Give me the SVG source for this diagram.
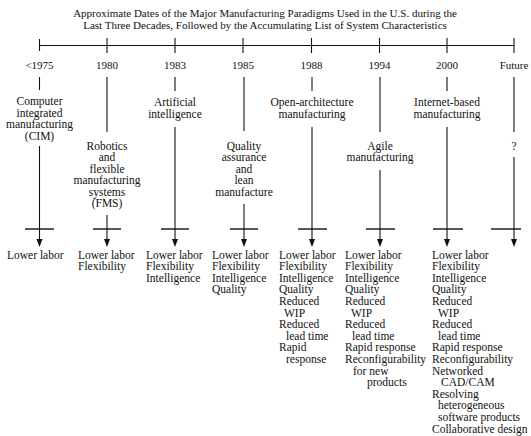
<svg xmlns="http://www.w3.org/2000/svg" width="531" height="436" viewBox="0 0 531 436">
<style>
text{font-family:"Liberation Serif","Times New Roman",serif;fill:#111}
.t{font-size:11px}
.y{font-size:11px;text-anchor:middle}
.n{font-size:11.5px;text-anchor:middle}
.l{font-size:11.5px}
.ln{stroke:#111;stroke-width:1.1;fill:none}
.x{stroke:#111;stroke-width:1.4}
</style>
<rect width="531" height="436" fill="#fff"/>
<g id="title">
<text class="t" x="265" y="17" text-anchor="middle">Approximate Dates of the Major Manufacturing Paradigms Used in the U.S. during the</text>
<text class="t" x="265" y="29" text-anchor="middle">Last Three Decades, Followed by the Accumulating List of System Characteristics</text>
</g>
<g id="timeline" class="ln">
<line x1="39.5" y1="45.5" x2="514" y2="45.5"/>
<line x1="39.5" y1="39" x2="39.5" y2="51"/>
<line x1="107" y1="38" x2="107" y2="53"/>
<line x1="175" y1="38" x2="175" y2="53"/>
<line x1="243" y1="38" x2="243" y2="53"/>
<line x1="311.5" y1="38" x2="311.5" y2="53"/>
<line x1="379.5" y1="38" x2="379.5" y2="53"/>
<line x1="447" y1="38" x2="447" y2="53"/>
<line x1="514" y1="38" x2="514" y2="53"/>
</g>
<g id="connectors" class="ln">
<line x1="39.5" y1="77" x2="39.5" y2="90"/>
<line x1="39.5" y1="146" x2="39.5" y2="239"/>
<line class="x" x1="25" y1="229" x2="54" y2="229"/>
<line x1="107" y1="77" x2="107" y2="132"/>
<line x1="107" y1="215" x2="107" y2="239"/>
<line class="x" x1="93" y1="229" x2="121" y2="229"/>
<line x1="175" y1="77" x2="175" y2="91"/>
<line x1="175" y1="127" x2="175" y2="239"/>
<line class="x" x1="161" y1="229" x2="189" y2="229"/>
<line x1="244" y1="77" x2="244" y2="131"/>
<line x1="244" y1="204" x2="244" y2="239"/>
<line class="x" x1="230" y1="229" x2="258" y2="229"/>
<line x1="312" y1="77" x2="312" y2="91"/>
<line x1="312" y1="127" x2="312" y2="239"/>
<line class="x" x1="298" y1="229" x2="327" y2="229"/>
<line x1="380" y1="77" x2="380" y2="132"/>
<line x1="380" y1="170" x2="380" y2="239"/>
<line class="x" x1="366" y1="229" x2="395" y2="229"/>
<line x1="447" y1="77" x2="447" y2="91"/>
<line x1="447" y1="127" x2="447" y2="239"/>
<line class="x" x1="433" y1="229" x2="463" y2="229"/>
<line x1="514" y1="77" x2="514" y2="132"/>
<line x1="514" y1="157" x2="514" y2="239"/>
<line class="x" x1="491" y1="229" x2="521" y2="229"/>
<g fill="#111" stroke="none">
<path d="M36.5,239 L42.5,239 L39.5,247 Z"/>
<path d="M104,239 L110,239 L107,247 Z"/>
<path d="M172,239 L178,239 L175,247 Z"/>
<path d="M241,239 L247,239 L244,247 Z"/>
<path d="M309,239 L315,239 L312,247 Z"/>
<path d="M377,239 L383,239 L380,247 Z"/>
<path d="M444,239 L450,239 L447,247 Z"/>
<path d="M511,239 L517,239 L514,247 Z"/>
</g>
</g>
<g id="col1975">
<text class="y" x="39.5" y="69">&lt;1975</text>
<text class="n" x="39.5" y="105">Computer</text>
<text class="n" x="39.5" y="116.5">integrated</text>
<text class="n" x="39.5" y="128">manufacturing</text>
<text class="n" x="39.5" y="139.5">(CIM)</text>
<text class="l" x="7" y="258.5">Lower labor</text>
</g>
<g id="col1980">
<text class="y" x="107" y="69">1980</text>
<text class="n" x="107" y="149.5">Robotics</text>
<text class="n" x="107" y="161">and</text>
<text class="n" x="107" y="172.5">flexible</text>
<text class="n" x="107" y="184">manufacturing</text>
<text class="n" x="107" y="195.5">systems</text>
<text class="n" x="107" y="207">(FMS)</text>
<text class="l" x="78" y="258.5">Lower labor</text>
<text class="l" x="78" y="270.1">Flexibility</text>
</g>
<g id="col1983">
<text class="y" x="175" y="69">1983</text>
<text class="n" x="175" y="106">Artificial</text>
<text class="n" x="175" y="117.5">intelligence</text>
<text class="l" x="146" y="258.5">Lower labor</text>
<text class="l" x="146" y="270.1">Flexibility</text>
<text class="l" x="146" y="281.7">Intelligence</text>
</g>
<g id="col1985">
<text class="y" x="243" y="69">1985</text>
<text class="n" x="244" y="149.5">Quality</text>
<text class="n" x="244" y="161">assurance</text>
<text class="n" x="244" y="172.5">and</text>
<text class="n" x="244" y="184">lean</text>
<text class="n" x="244" y="195.5">manufacture</text>
<text class="l" x="212" y="258.5">Lower labor</text>
<text class="l" x="212" y="270.1">Flexibility</text>
<text class="l" x="212" y="281.7">Intelligence</text>
<text class="l" x="212" y="293.3">Quality</text>
</g>
<g id="col1988">
<text class="y" x="311.5" y="69">1988</text>
<text class="n" x="312" y="106">Open-architecture</text>
<text class="n" x="312" y="117.5">manufacturing</text>
<text class="l" x="279" y="258.5">Lower labor</text>
<text class="l" x="279" y="270.1">Flexibility</text>
<text class="l" x="279" y="281.7">Intelligence</text>
<text class="l" x="279" y="293.3">Quality</text>
<text class="l" x="279" y="304.9">Reduced</text>
<text class="l" x="284" y="316.5">WIP</text>
<text class="l" x="279" y="328.1">Reduced</text>
<text class="l" x="286" y="339.7">lead time</text>
<text class="l" x="279" y="351.3">Rapid</text>
<text class="l" x="286" y="362.9">response</text>
</g>
<g id="col1994">
<text class="y" x="379.5" y="69">1994</text>
<text class="n" x="380" y="149.5">Agile</text>
<text class="n" x="380" y="161">manufacturing</text>
<text class="l" x="345" y="258.5">Lower labor</text>
<text class="l" x="345" y="270.1">Flexibility</text>
<text class="l" x="345" y="281.7">Intelligence</text>
<text class="l" x="345" y="293.3">Quality</text>
<text class="l" x="345" y="304.9">Reduced</text>
<text class="l" x="351" y="316.5">WIP</text>
<text class="l" x="345" y="328.1">Reduced</text>
<text class="l" x="352" y="339.7">lead time</text>
<text class="l" x="345" y="351.3">Rapid response</text>
<text class="l" x="345" y="362.9">Reconfigurability</text>
<text class="l" x="353" y="374.5">for new</text>
<text class="l" x="367" y="386.1">products</text>
</g>
<g id="col2000">
<text class="y" x="447" y="69">2000</text>
<text class="n" x="447" y="106">Internet-based</text>
<text class="n" x="447" y="117.5">manufacturing</text>
<text class="l" x="432" y="258.5">Lower labor</text>
<text class="l" x="432" y="270.1">Flexibility</text>
<text class="l" x="432" y="281.7">Intelligence</text>
<text class="l" x="432" y="293.3">Quality</text>
<text class="l" x="432" y="304.9">Reduced</text>
<text class="l" x="438" y="316.5">WIP</text>
<text class="l" x="432" y="328.1">Reduced</text>
<text class="l" x="438" y="339.7">lead time</text>
<text class="l" x="432" y="351.3">Rapid response</text>
<text class="l" x="432" y="362.9">Reconfigurability</text>
<text class="l" x="432" y="374.5">Networked</text>
<text class="l" x="441" y="386.1">CAD/CAM</text>
<text class="l" x="432" y="397.7">Resolving</text>
<text class="l" x="438" y="409.3">heterogeneous</text>
<text class="l" x="438" y="420.9">software products</text>
<text class="l" x="432" y="432.5">Collaborative design</text>
</g>
<g id="colFuture">
<text class="y" x="514" y="69">Future</text>
<text class="n" x="514" y="150">?</text>
</g>
</svg>
